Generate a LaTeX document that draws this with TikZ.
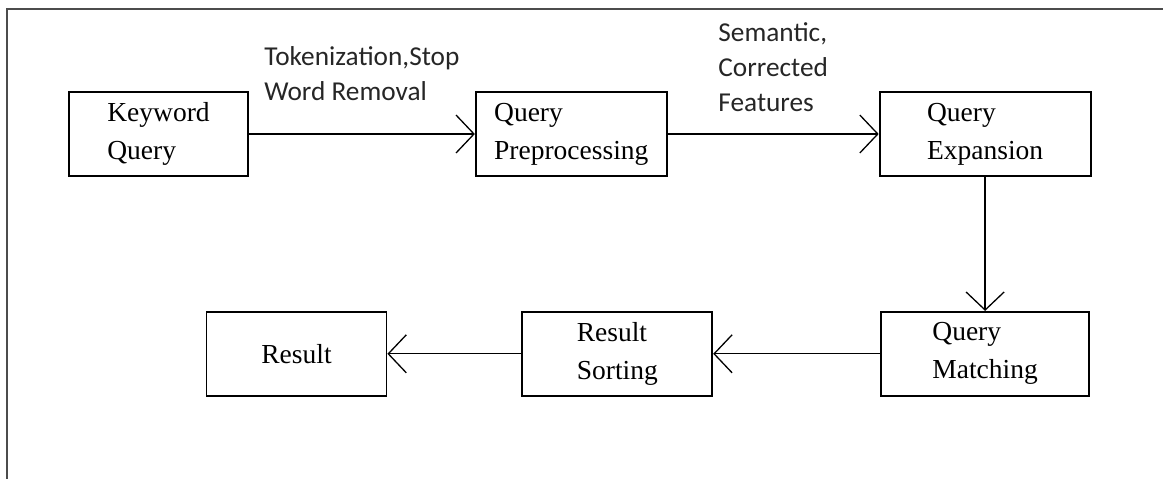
\documentclass[tikz,border=0pt]{standalone}
\usepackage{fontspec}
\setmainfont{Liberation Serif}
\newfontfamily\labelfont{Carlito}
\usetikzlibrary{arrows.meta,positioning}

\begin{document}
\begin{tikzpicture}[->,>={Straight Barb[length=18pt,width=38pt]},line width=1.3pt,
        stage node/.style={rectangle,draw,line width=1.8pt,minimum height=84pt,align=left,
          font=\fontsize{27.5}{38}\selectfont},
        edge label/.style={align=left,inner sep=0pt,text=black!85,
          font=\labelfont\fontsize{27.3}{35}\selectfont}]

        \useasboundingbox (0,0) rectangle (1163pt,-479pt);
        \draw[-,line width=2pt,black!70] (1163pt,-9pt) -- (7pt,-9pt) -- (7pt,-479pt);

        \node[stage node,minimum width=179pt] (kq) at (158.5pt,-134pt) {Keyword\\Query};
        \node[stage node,minimum width=191pt] (qp) [right=226pt of kq] {Query\\Preprocessing};
        \node[stage node,minimum width=211pt] (qe) [right=211pt of qp] {Query\\Expansion};
        \node[stage node,minimum width=208pt] (qm) [below=134pt of qe] {Query\\Matching};
        \node[stage node,minimum width=190pt] (rs) [left=167pt of qm] {Result\\Sorting};
        \node[stage node,minimum width=180pt] (res) [left=134pt of rs] {Result};

        \path
        (kq) edge node[edge label,above=33pt] {Tokenization,Stop\\Word Removal} (qp)
        (qp) edge node[edge label,above=22pt] {Semantic,\\Corrected\\Features} (qe)
        (qe) edge (qm)
        (qm) edge (rs)
        (rs) edge (res);
      \end{tikzpicture}
\end{document}
